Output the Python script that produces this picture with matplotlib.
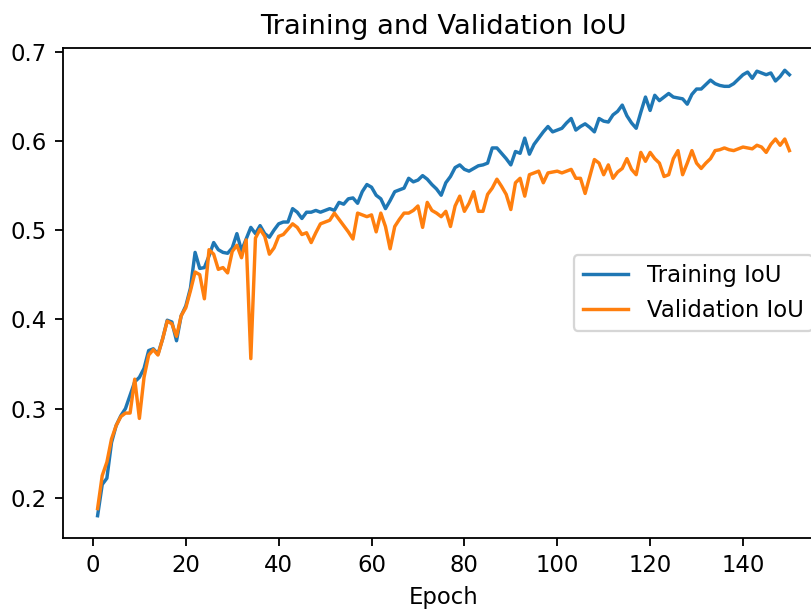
import numpy as np
import matplotlib.pyplot as plt

epochs = np.arange(1, 151)

train_iou = [
    0.180, 0.215, 0.222, 0.262, 0.281, 0.292, 0.300, 0.315, 0.330, 0.335,
    0.345, 0.365, 0.367, 0.361, 0.378, 0.399, 0.397, 0.376, 0.404, 0.415,
    0.435, 0.475, 0.457, 0.458, 0.471, 0.486, 0.478, 0.475, 0.474, 0.480,
    0.496, 0.477, 0.490, 0.503, 0.496, 0.505, 0.496, 0.492, 0.500, 0.507,
    0.509, 0.509, 0.524, 0.520, 0.513, 0.520, 0.520, 0.522, 0.520, 0.522,
    0.524, 0.522, 0.531, 0.529, 0.535, 0.536, 0.530, 0.543, 0.551, 0.548,
    0.539, 0.535, 0.524, 0.533, 0.543, 0.545, 0.547, 0.558, 0.554, 0.556,
    0.561, 0.557, 0.551, 0.546, 0.539, 0.553, 0.560, 0.570, 0.573, 0.568,
    0.566, 0.569, 0.572, 0.573, 0.575, 0.592, 0.592, 0.586, 0.580, 0.573,
    0.588, 0.586, 0.603, 0.585, 0.596, 0.603, 0.610, 0.616, 0.610, 0.612,
    0.614, 0.620, 0.625, 0.612, 0.616, 0.619, 0.615, 0.610, 0.625, 0.622,
    0.621, 0.629, 0.633, 0.640, 0.628, 0.620, 0.614, 0.632, 0.649, 0.634,
    0.651, 0.645, 0.649, 0.653, 0.649, 0.648, 0.647, 0.641, 0.652, 0.658,
    0.658, 0.663, 0.668, 0.664, 0.662, 0.661, 0.661, 0.664, 0.669, 0.674,
    0.677, 0.670, 0.678, 0.676, 0.674, 0.676, 0.667, 0.672, 0.679, 0.674,
]

val_iou = [
    0.188, 0.225, 0.240, 0.266, 0.281, 0.291, 0.295, 0.295, 0.333, 0.289,
    0.335, 0.360, 0.366, 0.360, 0.378, 0.398, 0.395, 0.381, 0.404, 0.413,
    0.432, 0.453, 0.450, 0.423, 0.478, 0.473, 0.456, 0.458, 0.452, 0.476,
    0.483, 0.469, 0.489, 0.356, 0.491, 0.501, 0.493, 0.473, 0.480, 0.493,
    0.495, 0.501, 0.507, 0.503, 0.495, 0.497, 0.486, 0.497, 0.507, 0.509,
    0.511, 0.519, 0.512, 0.505, 0.498, 0.490, 0.519, 0.517, 0.515, 0.517,
    0.498, 0.519, 0.504, 0.479, 0.504, 0.512, 0.519, 0.519, 0.522, 0.527,
    0.503, 0.531, 0.522, 0.519, 0.515, 0.521, 0.504, 0.527, 0.538, 0.521,
    0.530, 0.543, 0.521, 0.521, 0.540, 0.547, 0.557, 0.549, 0.540, 0.523,
    0.553, 0.558, 0.538, 0.562, 0.564, 0.566, 0.553, 0.564, 0.565, 0.566,
    0.564, 0.566, 0.568, 0.558, 0.558, 0.541, 0.560, 0.579, 0.575, 0.562,
    0.573, 0.558, 0.565, 0.569, 0.580, 0.568, 0.562, 0.587, 0.577, 0.587,
    0.580, 0.575, 0.560, 0.562, 0.580, 0.589, 0.562, 0.575, 0.589, 0.575,
    0.569, 0.575, 0.580, 0.589, 0.590, 0.592, 0.590, 0.589, 0.591, 0.593,
    0.592, 0.591, 0.595, 0.593, 0.587, 0.596, 0.602, 0.595, 0.602, 0.589,
]

DPI = 164
fig = plt.figure(figsize=(811 / DPI, 614 / DPI), dpi=DPI)
# axes run past the right edge, like the cropped original
ax = fig.add_axes([63 / 811, 76 / 614, 761 / 811, 490 / 614])

ax.plot(epochs, train_iou, label='Training IoU')
ax.plot(epochs, val_iou, label='Validation IoU')
ax.set_title('Training and Validation IoU')
ax.set_xlabel('Epoch')
ax.legend(loc='center right')

fig.savefig('out.png', dpi=DPI)
